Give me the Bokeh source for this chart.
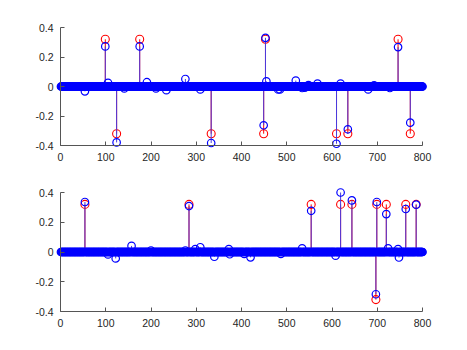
import numpy as np
from bokeh.plotting import figure
from bokeh.layouts import column
from bokeh.models import Range1d, FixedTicker, LinearAxis
from bokeh.embed import file_html
from bokeh.resources import INLINE

# ---------------- data ----------------
N = 800
x_ticks = [0, 100, 200, 300, 400, 500, 600, 700, 800]
x_tick_labels = ["0", "100", "200", "300", "400", "500", "600", "700", "800"]
y_ticks = [-0.4, -0.2, 0.0, 0.2, 0.4]
y_tick_labels = ["-0.4", "-0.2", "0", "0.2", "0.4"]

# top panel: true sparse signal (red) and estimate (blue)
top_true_idx = [99, 124, 175, 333, 449, 453, 610, 635, 746, 773]
top_true_val = [0.32, -0.32, 0.32, -0.32, -0.32, 0.32, -0.32, -0.32, 0.32, -0.32]
top_est_idx = [54, 99, 105, 124, 141, 175, 191, 211, 234, 276, 309, 333,
               449, 453, 455, 481, 485, 520, 534, 540, 548, 568, 610, 619,
               635, 680, 693, 728, 746, 773]
top_est_val = [-0.033, 0.272, 0.025, -0.379, -0.013, 0.272, 0.029, -0.013,
               -0.025, 0.051, -0.02, -0.383, -0.263, 0.33, 0.035, -0.02,
               -0.02, 0.04, -0.01, -0.008, 0.01, 0.02, -0.388, 0.02, -0.29,
               -0.02, 0.008, -0.01, 0.267, -0.245]

# bottom panel
bot_true_idx = [54, 284, 554, 619, 644, 697, 699, 720, 763, 786]
bot_true_val = [0.32, 0.32, 0.32, 0.32, 0.32, -0.32, 0.32, 0.32, 0.32, 0.32]
bot_est_idx = [54, 105, 122, 157, 200, 276, 284, 298, 309, 340, 372, 374,
               406, 420, 487, 534, 554, 608, 619, 644, 697, 699, 720, 724,
               746, 748, 763, 786]
bot_est_val = [0.336, -0.016, -0.043, 0.041, 0.01, 0.01, 0.309, 0.02, 0.032,
               -0.032, 0.02, -0.015, -0.013, -0.036, -0.013, 0.025, 0.277,
               -0.025, 0.40, 0.347, -0.284, 0.336, 0.255, 0.025, 0.02,
               -0.037, 0.289, 0.318]

FONT = "Liberation Sans"
AXIS_COLOR = "#555555"
TEXT_COLOR = "#262626"


def style_labels(ax, standoff):
    ax.axis_line_color = None
    ax.major_tick_line_color = None
    ax.minor_tick_line_color = None
    ax.major_tick_in = 0
    ax.major_tick_out = 0
    ax.major_label_standoff = standoff
    ax.major_label_text_font = FONT
    ax.major_label_text_font_size = "10.5px"
    ax.major_label_text_color = TEXT_COLOR


def style_line(ax):
    ax.axis_line_color = AXIS_COLOR
    ax.axis_line_width = 1
    ax.major_tick_line_color = AXIS_COLOR
    ax.major_tick_in = 4
    ax.major_tick_out = 0
    ax.minor_tick_line_color = None
    ax.major_label_text_alpha = 0
    ax.major_label_text_font_size = "10.5px"


def make_panel(true_idx, true_val, est_idx, est_val, axis_px_h, top_b, bot_b):
    px_per_x = 362.0 / 800.0
    pad_px = 6.0
    xpad = pad_px / px_per_x
    frame_w = 362 + 2 * int(pad_px)
    px_per_y = axis_px_h / 0.8
    ypad = pad_px / px_per_y
    frame_h = axis_px_h + 2 * int(pad_px)

    p = figure(frame_width=frame_w, frame_height=frame_h,
               x_range=Range1d(-xpad, 800 + xpad),
               y_range=Range1d(-0.4 - ypad, 0.4 + ypad),
               output_backend="svg", toolbar_location=None,
               min_border_left=54, min_border_right=30,
               min_border_top=top_b, min_border_bottom=bot_b)
    p.outline_line_color = None
    p.grid.visible = False
    p.background_fill_color = "white"
    p.border_fill_color = "white"

    idx = np.arange(1, N + 1)
    est = np.zeros(N)
    est[np.array(est_idx) - 1] = est_val

    ti = np.array(true_idx)
    tv = np.array(true_val)

    # red stems and markers (true signal)
    p.segment(x0=ti, y0=np.zeros(len(ti)), x1=ti, y1=tv,
              line_color="#ff0000", line_width=1)
    p.scatter(ti, tv, marker="circle", size=8, fill_color=None,
              line_color="#ff0000", line_width=1.1)

    # blue stems and markers (estimate, all samples)
    p.segment(x0=idx, y0=np.zeros(N), x1=idx, y1=est,
              line_color="#4a3be0", line_width=1)
    p.scatter(idx, est, marker="circle", size=7.5, fill_color=None,
              line_color="#0000ff", line_width=1.2)

    # tick labels on the standard (edge) axes
    for ax in p.xaxis:
        ax.ticker = FixedTicker(ticks=x_ticks)
        ax.major_label_overrides = dict(zip(x_ticks, x_tick_labels))
        style_labels(ax, 1)
    for ax in p.yaxis:
        ax.ticker = FixedTicker(ticks=y_ticks)
        ax.major_label_overrides = dict(zip(y_ticks, y_tick_labels))
        style_labels(ax, 1)

    # axis lines and inward ticks at the data limits
    xl = LinearAxis(fixed_location=-0.4, bounds=(0, 800),
                    ticker=FixedTicker(ticks=x_ticks))
    yl = LinearAxis(fixed_location=0, bounds=(-0.4, 0.4),
                    ticker=FixedTicker(ticks=y_ticks))
    style_line(xl)
    style_line(yl)
    p.add_layout(xl, "below")
    p.add_layout(yl, "left")
    return p


p1 = make_panel(top_true_idx, top_true_val, top_est_idx, top_est_val,
                118, 21, 15)
p2 = make_panel(bot_true_idx, bot_true_val, bot_est_idx, bot_est_val,
                119, 20, 22)

layout = column(p1, p2, spacing=0)
open("out.html", "w").write(file_html(layout, INLINE))
